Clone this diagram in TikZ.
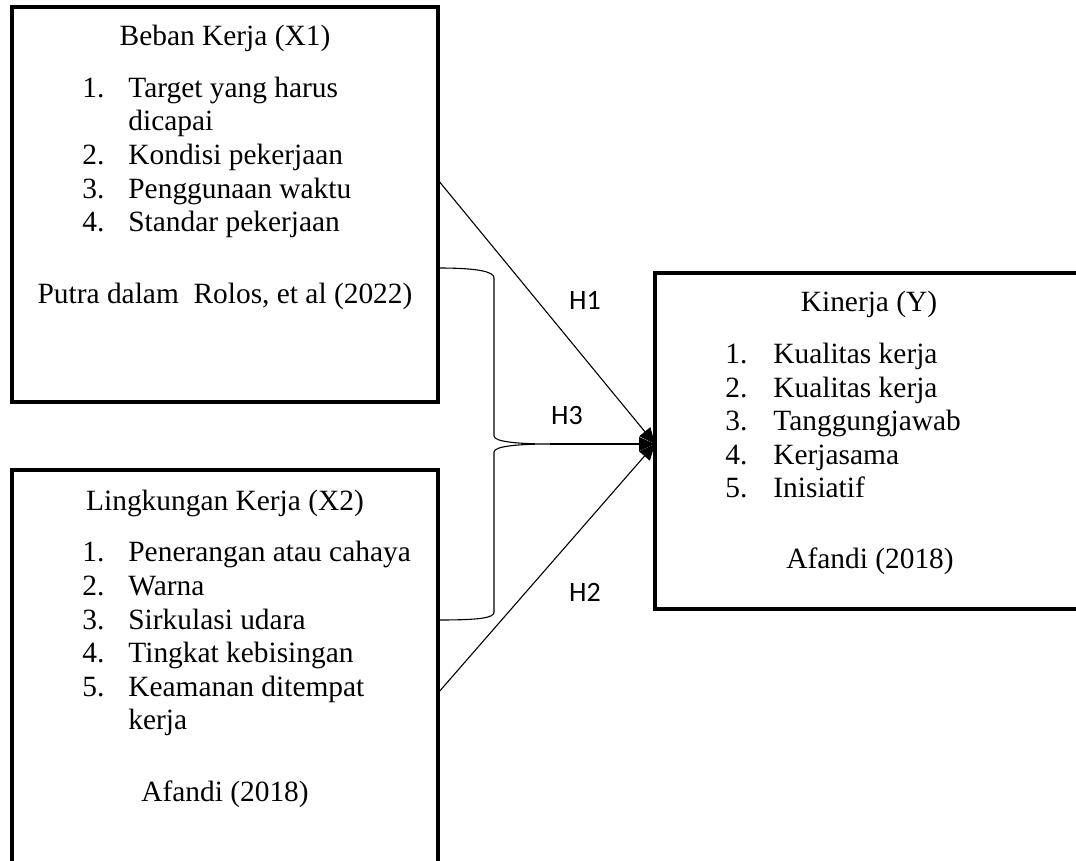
\documentclass[tikz,border=0pt]{standalone}
\usepackage{fontspec}
\setmainfont{Liberation Serif}
\newfontfamily\hfont{Carlito}
\usetikzlibrary{arrows.meta}
\begin{document}
\begin{tikzpicture}[x=0.5pt,y=-0.5pt,
  box/.style={draw,line width=1.6pt,inner sep=0pt},
  txt/.style={inner sep=0pt,font=\fontsize{14.7}{17}\selectfont},
  hl/.style={inner sep=0pt,font=\hfont\fontsize{14}{16}\selectfont},
  conn/.style={line width=0.55pt,-{Triangle[length=8pt,width=7pt]}},
  brace/.style={line width=0.55pt}]
\useasboundingbox (0,0) rectangle (1076,861);
% boxes
\draw[box] (12,7) rectangle (438,402);
\node[inner sep=0pt] (x1) at (225,204.5) {};
\draw[box] (12,470) rectangle (438,880);
\node[inner sep=0pt] (x2) at (225,675) {};
\draw[box] (655,273) rectangle (1090,609);
\node[inner sep=0pt] (y) at (870,441) {};
% box X1 text
\node[txt,anchor=base] (x1t) at (225,46) {Beban Kerja (X1)};
\node[txt,anchor=base west] (x1n1) at (82,98) {1.};
\node[txt,anchor=base west] (x1i1) at (128,98) {Target yang harus};
\node[txt,anchor=base west] (x1i1b) at (128,131) {dicapai};
\node[txt,anchor=base west] (x1n2) at (82,165) {2.};
\node[txt,anchor=base west] (x1i2) at (128,165) {Kondisi pekerjaan};
\node[txt,anchor=base west] (x1n3) at (82,199) {3.};
\node[txt,anchor=base west] (x1i3) at (128,199) {Penggunaan waktu};
\node[txt,anchor=base west] (x1n4) at (82,232) {4.};
\node[txt,anchor=base west] (x1i4) at (128,232) {Standar pekerjaan};
\node[txt,anchor=base] (x1s) at (225,304) {Putra dalam\ \ Rolos, et al (2022)};
% box X2 text
\node[txt,anchor=base] (x2t) at (225,510) {Lingkungan Kerja (X2)};
\node[txt,anchor=base west] (x2n1) at (82,561) {1.};
\node[txt,anchor=base west] (x2i1) at (128,561) {Penerangan atau cahaya};
\node[txt,anchor=base west] (x2n2) at (82,595) {2.};
\node[txt,anchor=base west] (x2i2) at (128,595) {Warna};
\node[txt,anchor=base west] (x2n3) at (82,629) {3.};
\node[txt,anchor=base west] (x2i3) at (128,629) {Sirkulasi udara};
\node[txt,anchor=base west] (x2n4) at (82,662) {4.};
\node[txt,anchor=base west] (x2i4) at (128,662) {Tingkat kebisingan};
\node[txt,anchor=base west] (x2n5) at (82,696) {5.};
\node[txt,anchor=base west] (x2i5) at (128,696) {Keamanan ditempat};
\node[txt,anchor=base west] (x2i5b) at (128,729) {kerja};
\node[txt,anchor=base] (x2s) at (225,801) {Afandi (2018)};
% box Y text
\node[txt,anchor=base] (yt) at (869,312) {Kinerja (Y)};
\node[txt,anchor=base west] (yn1) at (725,363) {1.};
\node[txt,anchor=base west] (yi1) at (773,363) {Kualitas kerja};
\node[txt,anchor=base west] (yn2) at (725,397) {2.};
\node[txt,anchor=base west] (yi2) at (773,397) {Kualitas kerja};
\node[txt,anchor=base west] (yn3) at (725,430) {3.};
\node[txt,anchor=base west] (yi3) at (773,430) {Tanggungjawab};
\node[txt,anchor=base west] (yn4) at (725,464) {4.};
\node[txt,anchor=base west] (yi4) at (773,464) {Kerjasama};
\node[txt,anchor=base west] (yn5) at (725,497) {5.};
\node[txt,anchor=base west] (yi5) at (773,497) {Inisiatif};
\node[txt,anchor=base] (ys) at (870,568) {Afandi (2018)};
% connector endpoints
\coordinate (h1s) at (438,180);
\coordinate (h2s) at (438,693);
\coordinate (tip) at (655,444);
\coordinate (bt) at (550,444);
% brace
\draw[brace] (438,268) .. controls (480,268) and (494,272) .. (494,278)
  -- (494,436) .. controls (494,442) and (520,444) .. (bt)
  .. controls (520,444) and (494,446) .. (494,452)
  -- (494,612) .. controls (494,618) and (480,620) .. (438,620);
% connectors
\draw[conn] (h1s) -- (tip);
\draw[conn] (h2s) -- (tip);
\draw[conn] (bt) -- (tip);
% labels
\node[hl] (H1) at (585,300) {H1};
\node[hl] (H3) at (567,416) {H3};
\node[hl] (H2) at (585,592) {H2};
\end{tikzpicture}
\end{document}
